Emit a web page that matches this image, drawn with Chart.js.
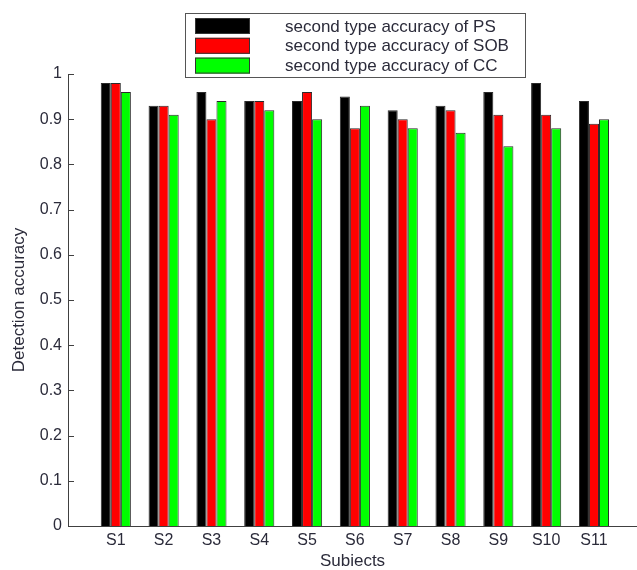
<!DOCTYPE html>
<html>
<head>
<meta charset="utf-8">
<script src="https://cdn.jsdelivr.net/npm/chart.js@4/dist/chart.umd.min.js"></script>
<style>
  html, body { margin: 0; padding: 0; background: #ffffff; }
  #wrap { width: 637px; height: 570px; overflow: hidden; }
</style>
</head>
<body>
<div id="wrap"><canvas id="chart" width="637" height="570"></canvas></div>
<script>
// Subjects and second-type detection accuracy per method
const categories = ['S1', 'S2', 'S3', 'S4', 'S5', 'S6', 'S7', 'S8', 'S9', 'S10', 'S11'];
const psAccuracy  = [0.98, 0.93, 0.96, 0.94, 0.94, 0.95, 0.92, 0.93, 0.96, 0.98, 0.94];
const sobAccuracy = [0.98, 0.93, 0.90, 0.94, 0.96, 0.88, 0.90, 0.92, 0.91, 0.91, 0.89];
const ccAccuracy  = [0.96, 0.91, 0.94, 0.92, 0.90, 0.93, 0.88, 0.87, 0.84, 0.88, 0.90];
const seriesNames = ['second type accuracy of PS', 'second type accuracy of SOB', 'second type accuracy of CC'];
const yTicks = [0, 0.1, 0.2, 0.3, 0.4, 0.5, 0.6, 0.7, 0.8, 0.9, 1];

const TEXT = '#2b2b3a';
const AXIS = '#404040';
const FONT = '"Liberation Sans", Arial, sans-serif';
Chart.defaults.font.family = FONT;
Chart.defaults.font.size = 16;
Chart.defaults.color = TEXT;

// subjects sit at positions 1..n on a numeric axis
const toPoints = vals => vals.map((v, i) => ({ x: i + 1, y: v }));

const barStyle = {
  borderWidth: 1,
  borderColor: '#2a2a2a',
  categoryPercentage: 0.63,
  barPercentage: 1.0
};

// inward tick marks on the value axis
const innerTicks = {
  id: 'innerTicks',
  afterDraw(chart) {
    const { ctx, chartArea } = chart;
    const y = chart.scales.y;
    ctx.save();
    ctx.strokeStyle = AXIS;
    ctx.lineWidth = 1;
    y.ticks.forEach(t => {
      const py = Math.round(y.getPixelForValue(t.value)) + 0.5;
      ctx.beginPath();
      ctx.moveTo(chartArea.left, py);
      ctx.lineTo(chartArea.left + 6, py);
      ctx.stroke();
    });
    ctx.restore();
  }
};

// boxed legend in the upper part of the figure
const boxLegend = {
  id: 'boxLegend',
  afterDraw(chart) {
    const { ctx } = chart;
    const box = { x: 185.5, y: 13.5, w: 340, h: 64 };
    ctx.save();
    ctx.fillStyle = '#ffffff';
    ctx.fillRect(box.x, box.y, box.w, box.h);
    ctx.strokeStyle = '#555555';
    ctx.lineWidth = 1;
    ctx.strokeRect(box.x, box.y, box.w, box.h);
    ctx.font = '17px ' + FONT;
    ctx.textBaseline = 'middle';
    ctx.textAlign = 'left';
    chart.data.datasets.forEach((ds, i) => {
      const cy = 26 + i * 19.8;
      ctx.fillStyle = ds.backgroundColor;
      ctx.fillRect(195, cy - 8, 55, 16);
      ctx.strokeStyle = '#333333';
      ctx.strokeRect(195.5, cy - 7.5, 54, 15);
      ctx.fillStyle = TEXT;
      ctx.fillText(ds.label, 285, cy + 1);
    });
    ctx.restore();
  }
};

new Chart(document.getElementById('chart'), {
  type: 'bar',
  data: {
    datasets: [
      { label: seriesNames[0], data: toPoints(psAccuracy),  backgroundColor: '#000000', ...barStyle },
      { label: seriesNames[1], data: toPoints(sobAccuracy), backgroundColor: '#ff0000', ...barStyle },
      { label: seriesNames[2], data: toPoints(ccAccuracy),  backgroundColor: '#00ff00', ...barStyle }
    ]
  },
  options: {
    responsive: false,
    animation: false,
    devicePixelRatio: 1,
    layout: { padding: { top: 74, left: 0, right: 0, bottom: 0 } },
    plugins: { legend: { display: false }, tooltip: { enabled: false } },
    scales: {
      x: {
        type: 'linear',
        offset: false,
        min: 0,
        max: 11.9,
        grid: { display: false, drawTicks: false },
        border: { display: true, color: AXIS, width: 1 },
        ticks: {
          padding: 5,
          maxRotation: 0,
          autoSkip: false,
          callback: v => categories[v - 1] ?? ''
        },
        afterBuildTicks: s => { s.ticks = categories.map((_, i) => ({ value: i + 1 })); },
        afterFit: s => { s.height = 44; },
        title: {
          display: true,
          text: 'Subiects',
          color: TEXT,
          font: { size: 17, lineHeight: 1 },
          padding: 0
        }
      },
      y: {
        min: 0,
        max: 1,
        grid: { display: false, drawTicks: false },
        border: { display: true, color: AXIS, width: 1 },
        ticks: {
          padding: 6,
          callback: v => String(+v.toFixed(1))
        },
        afterBuildTicks: s => { s.ticks = yTicks.map(v => ({ value: v })); },
        afterFit: s => { s.width = 68; },
        title: {
          display: true,
          text: 'Detection accuracy',
          color: TEXT,
          font: { size: 17, lineHeight: 1 },
          padding: { top: 11, bottom: 0 }
        }
      }
    }
  },
  plugins: [innerTicks, boxLegend]
});
</script>
</body>
</html>
